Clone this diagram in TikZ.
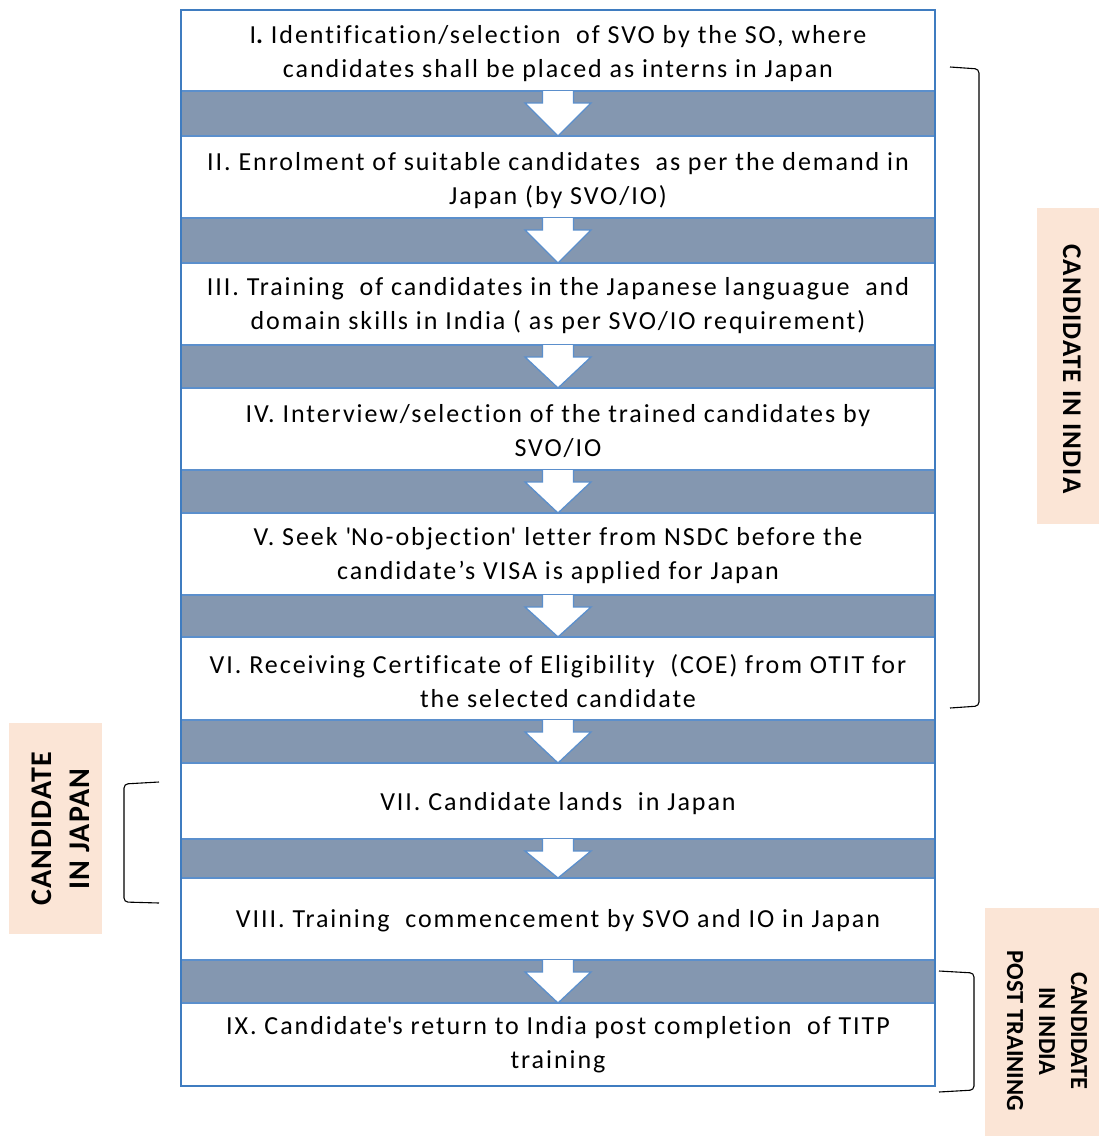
\documentclass[tikz,border=0pt]{standalone}
\usepackage{fontspec}
\setmainfont{Carlito}
\newfontfamily\stepfont[LetterSpace=7.5,Ligatures={NoCommon}]{Carlito}
\newfontfamily\labelfont[LetterSpace=4,Ligatures={NoCommon}]{Carlito}
\definecolor{bandfill}{HTML}{8497B0}
\definecolor{bandline}{HTML}{5B8FCC}
\definecolor{outerline}{HTML}{3F7CC0}
\definecolor{salmon}{HTML}{FBE5D6}
\tikzset{
  txt/.style={align=center, font=\stepfont\fontsize{26}{34}\selectfont, inner sep=0pt},
  sidetxt/.style={align=center, inner sep=0pt},
  brk/.style={draw=black, line width=1.1pt, rounded corners=4pt},
  arrowshape/.style={fill=white, draw=bandline, line width=1.3pt, line join=miter},
}
\begin{document}
\begin{tikzpicture}[x=1pt,y=-1pt]
\useasboundingbox (0,0) rectangle (1099,1136);
% bands with block arrows
\foreach \t/\b [count=\i] in {91/136,218/263,345/388,470/513,595/637,720/763,839/878,960/1003}{
  \fill[bandfill] (181,\t) rectangle (935,\b);
  \draw[bandline, line width=1.6pt] (181,\t) -- (935,\t);
  \draw[bandline, line width=1.6pt] (181,\b) -- (935,\b);
  \filldraw[arrowshape] (542.5,\t) -- (542.5,\t+12) -- (525,\t+12) -- (558,\b) -- (591,\t+12) -- (573.5,\t+12) -- (573.5,\t);
}
% outer frame
\draw[outerline, line width=2.6pt] (181,10) rectangle (935,1086);
% step texts
\node[txt] (s1) at (558,54) {I{\bfseries.} Identification/selection\ \ of SVO by the SO, where\\candidates shall be placed as interns in Japan};
\node[txt] (s2) at (558,181) {II. Enrolment of suitable candidates\ \ as per the demand in\\Japan (by SVO/IO)};
\node[txt] (s3) at (558,306) {III. Training\ \ of candidates in the Japanese languague\ \ and\\domain skills in India ( as per SVO/IO requirement)};
\node[txt] (s4) at (558,431) {IV. Interview/selection of the trained candidates by\\SVO/IO};
\node[txt] (s5) at (558,556) {V. Seek \textquotesingle No-objection\textquotesingle\ letter from NSDC before the\\candidate’s VISA is applied for Japan};
\node[txt] (s6) at (558,681) {VI. Receiving Certificate of Eligibility\ \ (COE) from OTIT for\\the selected candidate};
\node[txt] (s7) at (558,804) {VII. Candidate lands\ \ in Japan};
\node[txt] (s8) at (558,921) {VIII. Training\ \ commencement by SVO and IO in Japan};
\node[txt] (s9) at (558,1045) {IX. Candidate\textquotesingle s return to India post completion\ \ of TITP\\training};
% brackets
\draw[brk] (950,67) -- (979,69) -- (979,706) -- (950,708);
\draw[brk] (159,782) -- (124,784) -- (124,902) -- (159,903);
\draw[brk] (939,971) -- (974,973) -- (974,1090) -- (939,1092);
% side labels
\fill[salmon] (1037,208) rectangle (1099,524);
\node[sidetxt, rotate=-90, font=\labelfont\fontsize{27}{28}\selectfont\bfseries] (lindia) at (1072,369) {CANDIDATE IN INDIA};
\fill[salmon] (9,723) rectangle (102,934);
\node[sidetxt, rotate=90, font=\labelfont\fontsize{30}{38}\selectfont\bfseries] (ljapan) at (61,829) {CANDIDATE\\IN JAPAN};
\fill[salmon] (985,908) rectangle (1099,1136);
\node[sidetxt, rotate=-90, font=\fontsize{24.5}{32}\selectfont\bfseries] (lpost) at (1047,1031) {CANDIDATE\\IN INDIA\\POST TRAINING};
\end{tikzpicture}
\end{document}
